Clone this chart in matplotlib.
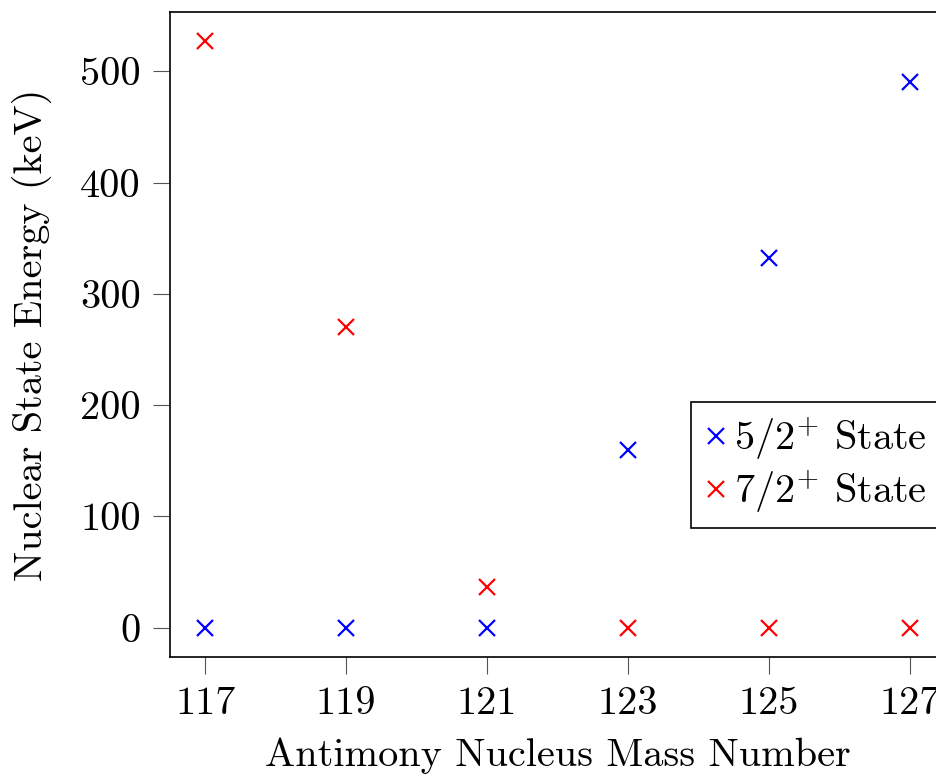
import matplotlib
matplotlib.use("Agg")
import matplotlib.pyplot as plt

plt.rcParams['font.family'] = ['cmr10', 'DejaVu Serif']
plt.rcParams['mathtext.fontset'] = 'cm'
plt.rcParams['axes.formatter.use_mathtext'] = True

mass_numbers = [117, 119, 121, 123, 125, 127]
state_52 = [0, 0, 0, 160, 332, 490]
state_72 = [527, 270, 37, 0, 0, 0]
xticks = [117, 119, 121, 123, 125, 127]
yticks = [0, 100, 200, 300, 400, 500]

fig = plt.figure(figsize=(9.37, 7.74), dpi=100)
ax = fig.add_axes([170/937, (774-657)/774, 775/937, 645/774])

ms = 11.5
mew = 1.6
ax.plot(mass_numbers, state_52, linestyle='none', marker='x', color=(0, 0, 1),
        markersize=ms, markeredgewidth=mew, label=r'$5/2^{+}$ State', clip_on=False)
ax.plot(mass_numbers, state_72, linestyle='none', marker='x', color=(1, 0, 0),
        markersize=ms, markeredgewidth=mew, label=r'$7/2^{+}$ State', clip_on=False)

ax.set_xlim(116.5, 127.5)
ax.set_ylim(-26.35, 553.35)
ax.set_xticks(xticks)
ax.set_xticklabels([str(v) for v in xticks])
ax.set_yticks(yticks)
ax.set_yticklabels([str(v) for v in yticks])
ax.tick_params(direction='out', length=12, width=0.8, color='#555555',
               labelsize=29, top=False, right=False)
ax.tick_params(axis='x', pad=9)
ax.tick_params(axis='y', pad=9)
for s in ax.spines.values():
    s.set_linewidth(1.2)

ax.set_xlabel('Antimony Nucleus Mass Number', fontsize=29, labelpad=11)
ax.set_ylabel('Nuclear State Energy (keV)', fontsize=29, labelpad=20)

leg = ax.legend(loc='upper left', bbox_to_anchor=((691-170)/775, (657-402)/645),
                borderaxespad=0, fontsize=29, frameon=True, fancybox=False,
                edgecolor='black', framealpha=1, handlelength=0.6,
                handletextpad=0.15, borderpad=0.33, labelspacing=0.15)
leg.get_frame().set_linewidth(1.2)

fig.savefig('out.png', dpi=100)
